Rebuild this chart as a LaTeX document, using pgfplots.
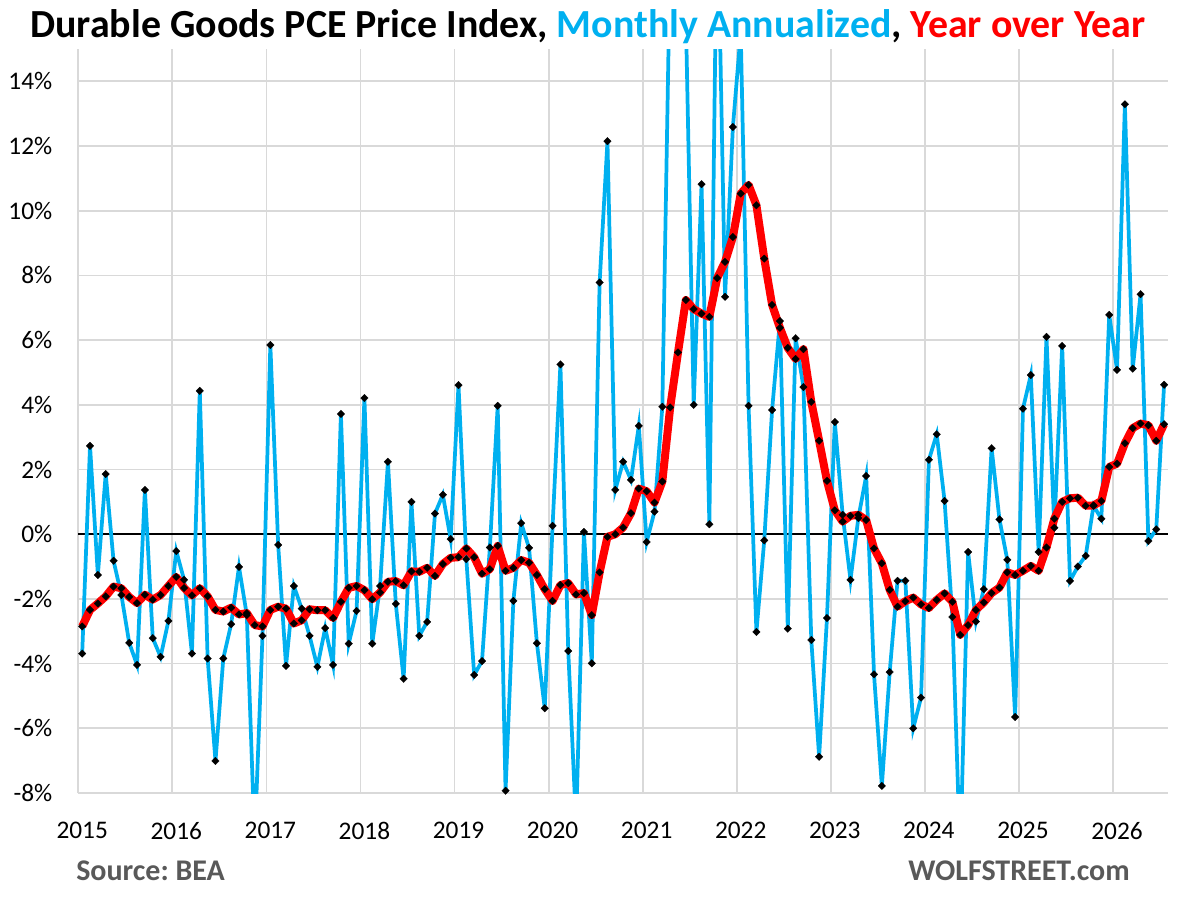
\documentclass[border=0pt]{standalone}
\usepackage{pgfplots}
\usepackage{pgfplotstable}
\pgfplotsset{compat=1.18}
\usepackage{fontspec}
\setmainfont{Carlito}
\definecolor{mblue}{HTML}{00B0F0}
\definecolor{mred}{HTML}{FF0000}
\definecolor{gridgray}{HTML}{D9D9D9}
\definecolor{txtgray}{HTML}{595959}

\pgfplotstableread{
i mom yoy
0 -3.69 -2.85
1 2.73 -2.34
2 -1.26 -2.14
3 1.86 -1.92
4 -0.82 -1.62
5 -1.88 -1.67
6 -3.36 -1.94
7 -4.04 -2.13
8 1.37 -1.87
9 -3.21 -2.02
10 -3.79 -1.88
11 -2.68 -1.60
12 -0.52 -1.32
13 -1.41 -1.66
14 -3.69 -1.89
15 4.43 -1.67
16 -3.84 -1.92
17 -7.01 -2.34
18 -3.84 -2.39
19 -2.78 -2.27
20 -1.01 -2.48
21 -2.50 -2.44
22 -9.50 -2.81
23 -3.14 -2.85
24 5.85 -2.34
25 -0.33 -2.24
26 -4.07 -2.30
27 -1.60 -2.76
28 -2.30 -2.66
29 -3.14 -2.32
30 -4.10 -2.35
31 -2.90 -2.35
32 -4.04 -2.59
33 3.72 -2.09
34 -3.38 -1.66
35 -2.37 -1.60
36 4.21 -1.73
37 -3.38 -2.01
38 -1.60 -1.80
39 2.24 -1.47
40 -2.15 -1.45
41 -4.47 -1.58
42 1.00 -1.15
43 -3.14 -1.16
44 -2.71 -1.04
45 0.64 -1.29
46 1.22 -0.92
47 -0.15 -0.73
48 4.61 -0.71
49 -0.77 -0.44
50 -4.35 -0.71
51 -3.92 -1.22
52 -0.41 -1.08
53 3.97 -0.36
54 -7.93 -1.13
55 -2.06 -1.04
56 0.34 -0.80
57 -0.42 -0.88
58 -3.37 -1.26
59 -5.38 -1.70
60 0.26 -2.06
61 5.25 -1.57
62 -3.61 -1.51
63 -9.00 -1.86
64 0.07 -1.82
65 -3.99 -2.50
66 7.78 -1.18
67 12.15 -0.08
68 1.37 0.00
69 2.24 0.21
70 1.68 0.65
71 3.35 1.41
72 -0.24 1.33
73 0.70 0.98
74 3.94 1.63
75 18.0 3.92
76 25.0 5.62
77 16.0 7.24
78 4.00 6.96
79 10.82 6.82
80 0.31 6.72
81 20.0 7.92
82 7.34 8.42
83 12.59 9.19
84 15.5 10.53
85 3.97 10.80
86 -3.02 10.17
87 -0.19 8.52
88 3.84 7.09
89 6.59 6.38
90 -2.92 5.76
91 6.06 5.42
92 4.55 5.72
93 -3.27 4.09
94 -6.88 2.89
95 -2.59 1.65
96 3.47 0.74
97 0.60 0.39
98 -1.41 0.57
99 0.50 0.60
100 1.80 0.44
101 -4.33 -0.44
102 -7.78 -0.90
103 -4.26 -1.72
104 -1.44 -2.24
105 -1.44 -2.07
106 -6.00 -1.96
107 -5.05 -2.17
108 2.30 -2.28
109 3.09 -2.03
110 1.03 -1.83
111 -2.56 -2.09
112 -10.0 -3.11
113 -0.55 -2.81
114 -2.70 -2.34
115 -1.70 -2.11
116 2.66 -1.82
117 0.46 -1.65
118 -0.79 -1.18
119 -5.65 -1.26
120 3.88 -1.13
121 4.92 -0.98
122 -0.55 -1.13
123 6.10 -0.41
124 0.20 0.48
125 5.82 1.00
126 -1.44 1.11
127 -1.00 1.13
128 -0.67 0.88
129 0.88 0.89
130 0.48 1.03
131 6.78 2.08
132 5.08 2.18
133 13.29 2.81
134 5.12 3.28
135 7.42 3.42
136 -0.21 3.37
137 0.15 2.89
138 4.62 3.40
}\data

\begin{document}
\frenchspacing
\begin{tikzpicture}
\path (0,0) rectangle (883.5pt,-675pt);
\begin{axis}[
  at={(58.7pt,-594.75pt)}, anchor=south west,
  width=817.3pt, height=558pt, scale only axis,
  xmin=-0.5, xmax=138.5, ymin=-8, ymax=15,
  axis line style={draw=none},
  tick style={draw=none}, major tick length=0pt, minor tick length=0pt,
  xtick={0,12,...,132},
  xticklabels={2015,2016,2017,2018,2019,2020,2021,2022,2023,2024,2025,2026},
  minor xtick={-0.5,11.5,23.5,35.5,47.5,59.5,71.5,83.5,95.5,107.5,119.5,131.5},
  xminorgrids=true, xmajorgrids=false,
  ytick={-8,-6,...,14},
  ymajorgrids=true,
  major grid style={gridgray, line width=1.3pt},
  minor grid style={gridgray, line width=1.3pt},
  extra y ticks={0}, extra y tick labels={},
  extra y tick style={grid=major, major grid style={black, line width=1.3pt}},
  yticklabel={\pgfmathprintnumber{\tick}\%},
  /pgf/number format/assume math mode=true,
  ticklabel style={font=\fontsize{19}{19}\selectfont},
  xticklabel style={yshift=-18.5pt},
  yticklabel style={xshift=-16pt},
]
\addplot[color=mblue, line width=2.8pt, mark=square*, mark size=2.0pt,
  mark options={black, rotate=45, line width=0.2pt}] table[x=i, y=mom]{\data};
\addplot[color=mred, line width=6pt, line join=round, mark=square*, mark size=2.0pt,
  mark options={black, rotate=45, line width=0.2pt}] table[x=i, y=yoy]{\data};
\end{axis}
\node[anchor=base, inner sep=0pt, font=\bfseries\fontsize{29.9}{29.9}\selectfont] at (441pt,-27.75pt)
  {Durable Goods PCE Price Index, \textcolor{mblue}{Monthly Annualized}, \textcolor{mred}{Year over Year}};
\node[anchor=base west, inner sep=0pt, text=txtgray, font=\bfseries\fontsize{22.5}{22.5}\selectfont] at (57pt,-660pt) {Source: BEA};
\node[anchor=base east, inner sep=0pt, text=txtgray, font=\bfseries\fontsize{22.5}{22.5}\selectfont] at (847.5pt,-660pt) {WOLFSTREET.com};
\end{tikzpicture}
\end{document}
